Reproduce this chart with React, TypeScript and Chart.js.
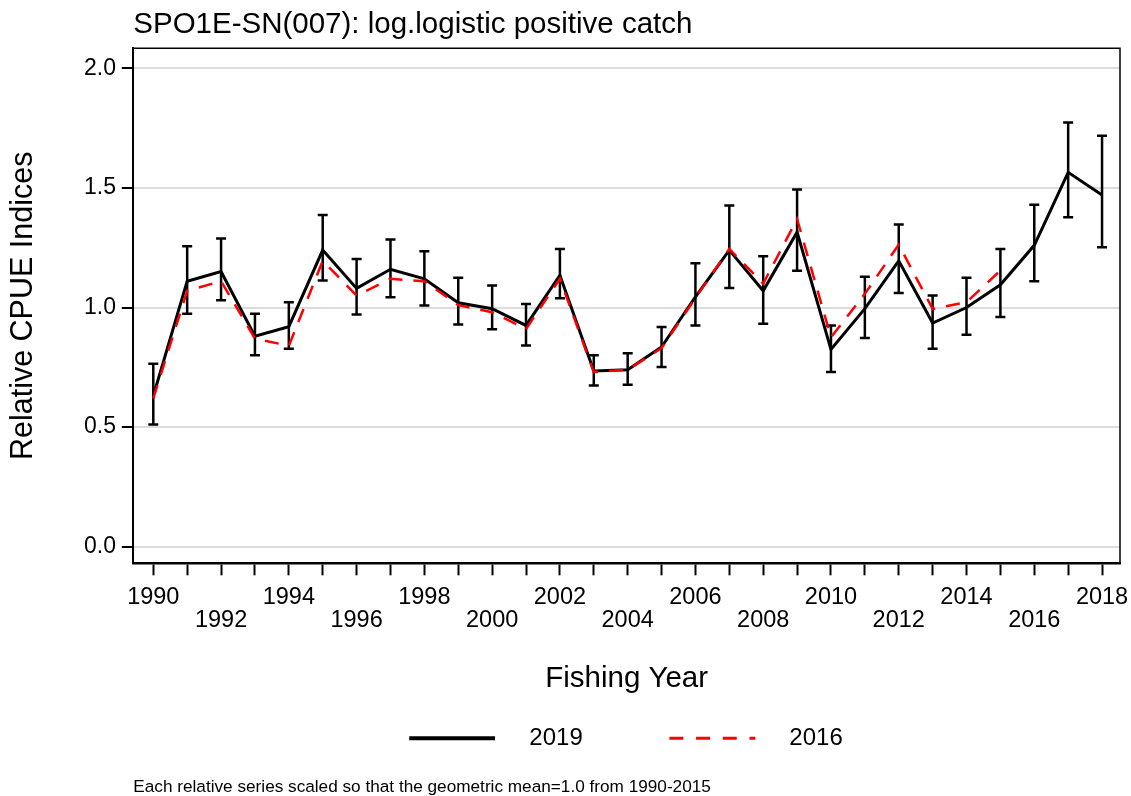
import React, { useEffect, useRef } from "react";
import { Chart, registerables } from "chart.js";

Chart.register(...registerables);

// ---- data ----
const years = [
  1990, 1991, 1992, 1993, 1994, 1995, 1996, 1997, 1998, 1999,
  2000, 2001, 2002, 2003, 2004, 2005, 2006, 2007, 2008, 2009,
  2010, 2011, 2012, 2013, 2014, 2015, 2016, 2017, 2018,
];
const index2019 = [
  0.63, 1.11, 1.15, 0.88, 0.92, 1.24, 1.08, 1.16, 1.12, 1.02,
  0.995, 0.925, 1.135, 0.735, 0.74, 0.835, 1.045, 1.24, 1.07, 1.315,
  0.825, 0.995, 1.195, 0.935, 1.0, 1.095, 1.26, 1.565, 1.47,
];
const upper2019 = [
  0.765, 1.256, 1.288, 0.974, 1.022, 1.387, 1.203, 1.284, 1.235, 1.124,
  1.092, 1.015, 1.245, 0.8, 0.809, 0.918, 1.185, 1.426, 1.214, 1.493,
  0.925, 1.129, 1.347, 1.05, 1.124, 1.245, 1.43, 1.774, 1.718,
];
const lower2019 = [
  0.511, 0.974, 1.03, 0.8, 0.828, 1.113, 0.971, 1.043, 1.008, 0.929,
  0.909, 0.841, 1.039, 0.674, 0.677, 0.751, 0.925, 1.082, 0.932, 1.154,
  0.73, 0.873, 1.061, 0.828, 0.886, 0.96, 1.11, 1.377, 1.252,
];
const years2016 = [
  1990, 1991, 1992, 1993, 1994, 1995, 1996, 1997, 1998, 1999,
  2000, 2001, 2002, 2003, 2004, 2005, 2006, 2007, 2008, 2009,
  2010, 2011, 2012, 2013, 2014, 2015,
];
const index2016 = [
  0.62, 1.07, 1.11, 0.87, 0.84, 1.195, 1.05, 1.12, 1.11, 1.01,
  0.98, 0.91, 1.12, 0.73, 0.74, 0.83, 1.04, 1.245, 1.1, 1.37,
  0.875, 1.057, 1.263, 0.994, 1.022, 1.155,
];
const yTickValues = [0, 0.5, 1.0, 1.5, 2.0];
const seriesLabels = ["2019", "2016"];
const chartTitle = "SPO1E-SN(007): log.logistic positive catch";
const xAxisTitle = "Fishing Year";
const yAxisTitle = "Relative CPUE Indices";
const footnote = "Each relative series scaled so that the geometric mean=1.0 from 1990-2015";

const FONT = "'Liberation Sans', Arial, Helvetica, sans-serif";

const errorBarPlugin = {
  id: "errorBars",
  beforeDatasetsDraw(chart: any) {
    const { ctx } = chart;
    const xs = chart.scales.x;
    const ys = chart.scales.y;
    ctx.save();
    ctx.strokeStyle = "#000";
    ctx.lineWidth = 2.5;
    ctx.lineCap = "butt";
    years.forEach((yr, i) => {
      const x = xs.getPixelForValue(yr);
      const yHi = ys.getPixelForValue(upper2019[i]);
      const yLo = ys.getPixelForValue(lower2019[i]);
      ctx.beginPath();
      ctx.moveTo(x, yHi);
      ctx.lineTo(x, yLo);
      ctx.moveTo(x - 5, yHi);
      ctx.lineTo(x + 5, yHi);
      ctx.moveTo(x - 5, yLo);
      ctx.lineTo(x + 5, yLo);
      ctx.stroke();
    });
    ctx.restore();
  },
};

const framePlugin = {
  id: "frame",
  beforeDatasetsDraw(chart: any) {
    const { ctx, chartArea: a } = chart;
    ctx.save();
    ctx.strokeStyle = "#000";
    ctx.lineWidth = 1.5;
    ctx.beginPath();
    ctx.moveTo(a.left, a.top);
    ctx.lineTo(a.right, a.top);
    ctx.lineTo(a.right, a.bottom);
    ctx.stroke();
    ctx.restore();
  },
};

const legendPlugin = {
  id: "lineLegend",
  afterDraw(chart: any) {
    const { ctx, chartArea: a } = chart;
    const cx = (a.left + a.right) / 2;
    const y = chart.scales.x.bottom + 40;
    const items = [
      { text: seriesLabels[0], color: "#000", width: 4, dash: [] as number[], x0: -217.4, x1: -131.6, tx: -97.3 },
      { text: seriesLabels[1], color: "#ff0000", width: 3, dash: [14, 12.7], x0: 42.7, x1: 128.7, tx: 162.7 },
    ];
    ctx.save();
    items.forEach((it) => {
      ctx.beginPath();
      ctx.strokeStyle = it.color;
      ctx.lineWidth = it.width;
      ctx.setLineDash(it.dash);
      ctx.moveTo(cx + it.x0, y);
      ctx.lineTo(cx + it.x1, y);
      ctx.stroke();
      ctx.setLineDash([]);
      ctx.fillStyle = "#000";
      ctx.font = `24px ${FONT}`;
      ctx.textAlign = "left";
      ctx.textBaseline = "middle";
      ctx.fillText(it.text, cx + it.tx, y);
    });
    ctx.restore();
  },
};

export default function App() {
  const canvasRef = useRef<HTMLCanvasElement | null>(null);

  useEffect(() => {
    if (!canvasRef.current) return;
    document.body.style.margin = "0";
    document.body.style.overflow = "hidden";
    Chart.defaults.font.family = FONT;
    Chart.defaults.color = "#000";

    const chart = new Chart(canvasRef.current, {
      type: "line",
      data: {
        datasets: [
          {
            label: seriesLabels[0],
            data: years.map((x, i) => ({ x, y: index2019[i] })),
            borderColor: "#000",
            backgroundColor: "#000",
            borderWidth: 3,
            pointRadius: 0,
            tension: 0,
            fill: false,
            order: 1,
          },
          {
            label: seriesLabels[1],
            data: years2016.map((x, i) => ({ x, y: index2016[i] })),
            borderColor: "#ff0000",
            backgroundColor: "#ff0000",
            borderWidth: 2.5,
            borderDash: [14, 11],
            pointRadius: 0,
            tension: 0,
            fill: false,
            order: 0,
          },
        ],
      },
      options: {
        responsive: false,
        animation: false,
        events: [],
        layout: { padding: { top: 8, left: 8, right: 11, bottom: 0 } },
        plugins: {
          legend: { display: false },
          tooltip: { enabled: false },
          title: {
            display: true,
            text: chartTitle,
            align: "start",
            fullSize: false,
            color: "#000",
            font: { size: 29.5, weight: "normal", lineHeight: 1.15 },
            padding: { top: 0, bottom: 6.4 },
          },
          subtitle: {
            display: true,
            text: footnote,
            position: "bottom",
            align: "start",
            fullSize: false,
            color: "#000",
            font: { size: 17.2, weight: "normal", lineHeight: 1.0 },
            padding: { top: 80.5, bottom: 0 },
          },
        },
        scales: {
          x: {
            type: "linear",
            min: 1989.41,
            max: 2018.53,
            bounds: "data",
            afterBuildTicks: (scale: any) => {
              scale.ticks = years.map((v) => ({ value: v }));
            },
            afterFit: (scale: any) => {
              scale.height = 135;
              scale.paddingLeft = 0;
              scale.paddingRight = 0;
            },
            grid: {
              display: true,
              drawOnChartArea: false,
              drawTicks: true,
              tickLength: 12,
              tickWidth: 2,
              tickColor: "#000",
            },
            border: { display: true, color: "#000", width: 2.5 },
            ticks: {
              autoSkip: false,
              maxRotation: 0,
              minRotation: 0,
              padding: 10.45,
              color: "#000",
              font: { size: 23.5, lineHeight: 1.0 },
              callback: (v: any) => {
                const y = Number(v);
                if (!Number.isInteger(y) || y % 2 !== 0) return "";
                return y % 4 === 2 ? String(y) : ["", String(y)];
              },
            },
            title: {
              display: true,
              text: xAxisTitle,
              color: "#000",
              font: { size: 29.5, lineHeight: 1.0 },
              padding: { top: 0, bottom: 4.6 },
            },
          },
          y: {
            type: "linear",
            min: -0.0694,
            max: 2.0836,
            bounds: "data",
            afterBuildTicks: (scale: any) => {
              scale.ticks = yTickValues.map((v) => ({ value: v }));
            },
            afterFit: (scale: any) => {
              scale.width = 125.3;
              scale.paddingTop = 0;
              scale.paddingBottom = 0;
            },
            grid: {
              display: true,
              color: "#dcdcdc",
              lineWidth: 2,
              drawTicks: true,
              tickLength: 11.5,
              tickWidth: 2,
              tickColor: "#000",
            },
            border: { display: true, color: "#000", width: 2 },
            ticks: {
              padding: 5.8,
              color: "#000",
              font: { size: 23 },
              callback: (v: any) => Number(v).toFixed(1),
            },
            title: {
              display: true,
              text: yAxisTitle,
              color: "#000",
              font: { size: 30.5, lineHeight: 1.0 },
              padding: { top: 0, bottom: 0 },
            },
          },
        },
      },
      plugins: [framePlugin, errorBarPlugin, legendPlugin],
    } as any);

    return () => chart.destroy();
  }, []);

  return (
    <canvas
      ref={canvasRef}
      width={1131}
      height={796}
      style={{ display: "block", width: 1131, height: 796 }}
    />
  );
}
